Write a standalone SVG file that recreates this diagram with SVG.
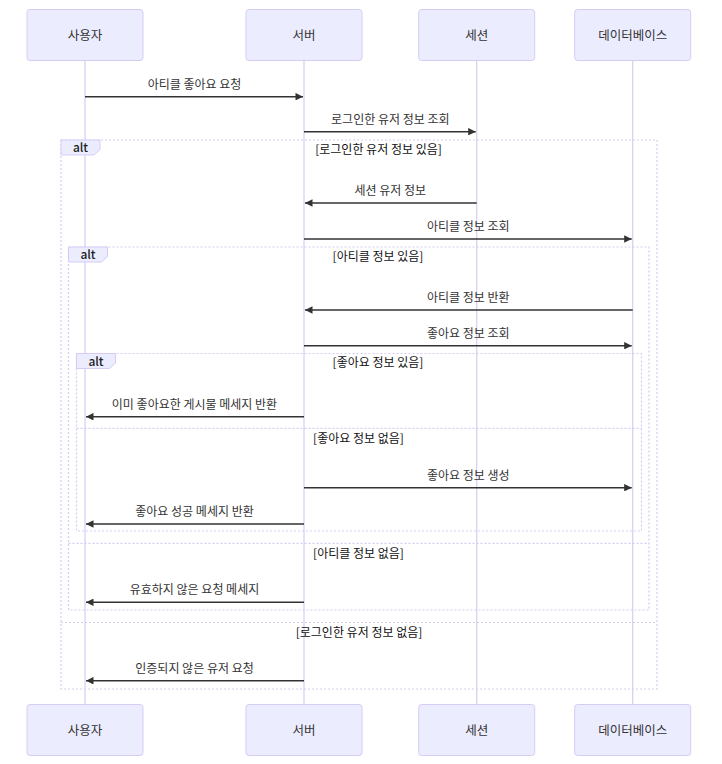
<svg xmlns="http://www.w3.org/2000/svg" width="722" height="764" viewBox="0 0 722 764">
<style>
text{font-family:"Noto Sans CJK KR","Noto Sans",sans-serif;}
.actor{fill:#ECECFF;stroke:#d6ccf3;stroke-width:1;}
.actor-text{font-size:12.5px;fill:#333;text-anchor:middle;}
.lifeline{stroke:#d6ccf3;stroke-width:1.2;}
.loop{fill:none;stroke:#d6ccf3;stroke-width:1.2;stroke-dasharray:2,2;}
.label-box{fill:#ECECFF;stroke:#d6ccf3;stroke-width:1;}
.label-text{font-size:12px;fill:#222;text-anchor:middle;font-weight:500;}
.cond{font-size:12px;fill:#111;text-anchor:middle;}
.msg{stroke:#333;stroke-width:1.5;fill:none;marker-end:url(#arrow);}
.msg-text{font-size:12px;fill:#333;text-anchor:middle;}
</style>
<defs>
<marker id="arrow" viewBox="0 0 10 10" refX="10" refY="5" markerWidth="8.5" markerHeight="7.5" markerUnits="userSpaceOnUse" orient="auto">
<path d="M0,0 L10,5 L0,10 z" fill="#333"/>
</marker>
</defs>
<rect width="722" height="764" fill="#ffffff"/>
<g id="lifelines">
<line class="lifeline" x1="85" y1="60.5" x2="85" y2="704.5"/>
<line class="lifeline" x1="304" y1="60.5" x2="304" y2="704.5"/>
<line class="lifeline" x1="476.7" y1="60.5" x2="476.7" y2="704.5"/>
<line class="lifeline" x1="632.7" y1="60.5" x2="632.7" y2="704.5"/>
</g>
<g id="user">
<rect class="actor" x="27" y="9.5" width="116" height="51" rx="3"/>
<text class="actor-text" x="85" y="39.5">사용자</text>
<rect class="actor" x="27" y="704.5" width="116" height="51" rx="3"/>
<text class="actor-text" x="85" y="734.5">사용자</text>
</g>
<g id="server">
<rect class="actor" x="246" y="9.5" width="116" height="51" rx="3"/>
<text class="actor-text" x="304" y="39.5">서버</text>
<rect class="actor" x="246" y="704.5" width="116" height="51" rx="3"/>
<text class="actor-text" x="304" y="734.5">서버</text>
</g>
<g id="session">
<rect class="actor" x="418.7" y="9.5" width="116" height="51" rx="3"/>
<text class="actor-text" x="476.7" y="39.5">세션</text>
<rect class="actor" x="418.7" y="704.5" width="116" height="51" rx="3"/>
<text class="actor-text" x="476.7" y="734.5">세션</text>
</g>
<g id="database">
<rect class="actor" x="574.7" y="9.5" width="116" height="51" rx="3"/>
<text class="actor-text" x="632.7" y="39.5">데이터베이스</text>
<rect class="actor" x="574.7" y="704.5" width="116" height="51" rx="3"/>
<text class="actor-text" x="632.7" y="734.5">데이터베이스</text>
</g>
<g id="alt-login">
<rect class="loop" x="61" y="140" width="596" height="549"/>
<line class="loop" x1="61" y1="622.5" x2="657" y2="622.5"/>
<polygon class="label-box" points="61,140 100,140 100,149.5 94,155 61,155"/>
<text class="label-text" x="80.5" y="152">alt</text>
<text class="cond" x="378.5" y="154">[로그인한 유저 정보 있음]</text>
<text class="cond" x="359" y="636.5">[로그인한 유저 정보 없음]</text>
</g>
<g id="alt-article">
<rect class="loop" x="68.5" y="247" width="580.5" height="363"/>
<line class="loop" x1="68.5" y1="543.3" x2="649" y2="543.3"/>
<polygon class="label-box" points="68.5,247 107.5,247 107.5,256.5 101.5,262 68.5,262"/>
<text class="label-text" x="88" y="259">alt</text>
<text class="cond" x="378" y="260.5">[아티클 정보 있음]</text>
<text class="cond" x="358.5" y="557.5">[아티클 정보 없음]</text>
</g>
<g id="alt-like">
<rect class="loop" x="76.5" y="353.5" width="565" height="177.5"/>
<line class="loop" x1="76.5" y1="428.3" x2="641.5" y2="428.3"/>
<polygon class="label-box" points="76.5,353.5 115.5,353.5 115.5,363 109.5,368.5 76.5,368.5"/>
<text class="label-text" x="96" y="365.5">alt</text>
<text class="cond" x="378" y="367">[좋아요 정보 있음]</text>
<text class="cond" x="358.5" y="442.5">[좋아요 정보 없음]</text>
</g>
<g id="messages">
<line class="msg" x1="85" y1="96.7" x2="303" y2="96.7"/>
<text class="msg-text" x="194.5" y="88.5">아티클 좋아요 요청</text>
<line class="msg" x1="304" y1="131.7" x2="475.7" y2="131.7"/>
<text class="msg-text" x="390.3" y="123.5">로그인한 유저 정보 조회</text>
<line class="msg" x1="476.7" y1="203" x2="305" y2="203"/>
<text class="msg-text" x="390.3" y="194.8">세션 유저 정보</text>
<line class="msg" x1="304" y1="239" x2="631.7" y2="239"/>
<text class="msg-text" x="468.3" y="230.8">아티클 정보 조회</text>
<line class="msg" x1="632.7" y1="310" x2="305" y2="310"/>
<text class="msg-text" x="468.3" y="301.8">아티클 정보 반환</text>
<line class="msg" x1="304" y1="345.7" x2="631.7" y2="345.7"/>
<text class="msg-text" x="468.3" y="337.5">좋아요 정보 조회</text>
<line class="msg" x1="304" y1="416.7" x2="86" y2="416.7"/>
<text class="msg-text" x="194.5" y="408.5">이미 좋아요한 게시물 메세지 반환</text>
<line class="msg" x1="304" y1="487.7" x2="631.7" y2="487.7"/>
<text class="msg-text" x="468.3" y="479.5">좋아요 정보 생성</text>
<line class="msg" x1="304" y1="524" x2="86" y2="524"/>
<text class="msg-text" x="194.5" y="515.8">좋아요 성공 메세지 반환</text>
<line class="msg" x1="304" y1="602.3" x2="86" y2="602.3"/>
<text class="msg-text" x="194.5" y="594.1">유효하지 않은 요청 메세지</text>
<line class="msg" x1="304" y1="680.7" x2="86" y2="680.7"/>
<text class="msg-text" x="194.5" y="672.5">인증되지 않은 유저 요청</text>
</g>
</svg>
